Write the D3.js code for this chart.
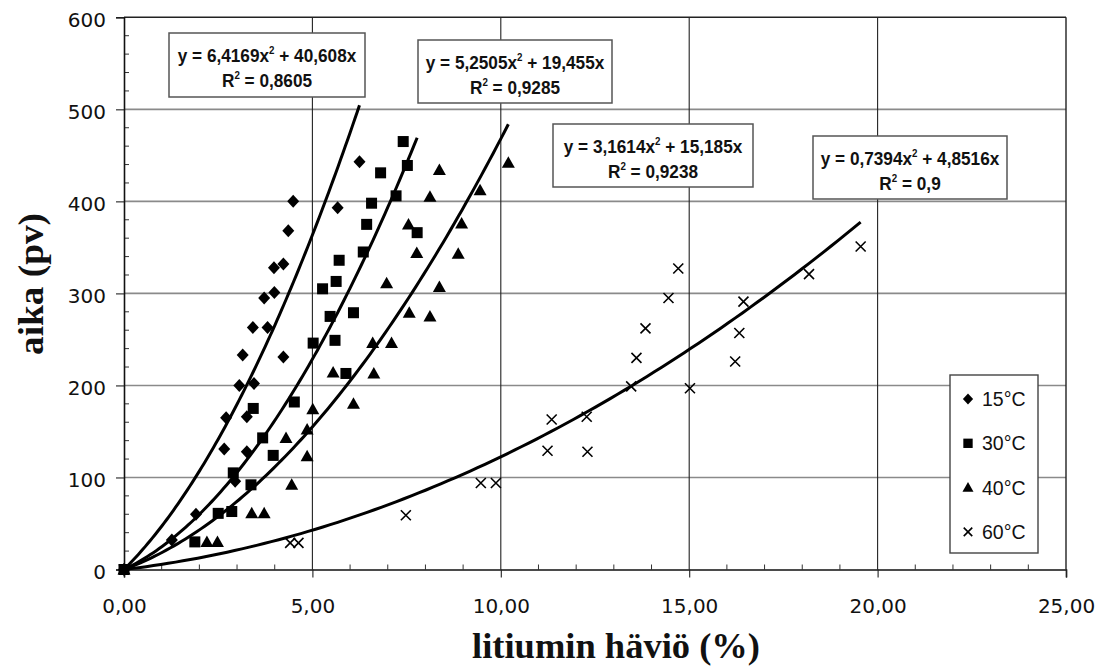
<!DOCTYPE html>
<html>
<head>
<meta charset="utf-8">
<script src="https://cdn.jsdelivr.net/npm/d3@7"></script>
<style>
  html, body { margin: 0; padding: 0; background: #fff; }
  svg { display: block; }
</style>
</head>
<body>
<svg id="chart" width="1106" height="666"></svg>
<script>
// Measured lithium loss (%) vs. time (days), one array per temperature
const series15 = [[0,0],[1.27,32],[1.91,60],[2.95,96],[2.66,131],[3.26,128],[2.71,165],[3.26,166],
  [3.06,200],[3.45,202],[3.15,233],[4.23,231],[3.42,263],[3.81,263],[3.72,295],[3.99,301],
  [3.98,328],[4.23,332],[4.36,368],[4.49,400],[5.67,393],[6.25,443]];
const series30 = [[0,0],[1.88,30],[2.5,61],[2.86,63],[3.37,92],[2.9,105],[3.96,124],[3.68,143],
  [3.43,175],[4.52,182],[5.89,213],[5.02,246],[5.6,249],[5.47,275],[6.09,279],[5.27,305],
  [5.63,313],[5.71,336],[6.35,345],[7.78,366],[6.44,375],[6.57,398],[7.22,406],[6.81,431],
  [7.52,439],[7.41,465]];
const series40 = [[0,0],[2.2,30],[2.48,30],[3.39,61],[3.72,61],[4.45,92],[4.86,123],[4.3,143],
  [4.86,152],[5.01,174],[6.09,180],[6.63,213],[5.55,214],[6.6,246],[7.1,246],[8.12,275],
  [7.57,279],[8.37,307],[6.97,311],[8.87,343],[7.77,344],[7.55,375],[8.96,376],[8.12,405],
  [9.45,412],[8.37,434],[10.2,442]];
const series60 = [[0,0],[4.41,29],[4.63,29],[7.48,59],[9.47,94],[9.87,94],[11.24,129],[12.3,128],
  [11.35,163],[12.28,166],[13.46,199],[15.02,197],[16.22,226],[13.6,230],[16.33,257],[13.84,262],
  [16.44,291],[14.45,295],[14.71,327],[18.18,321],[19.55,351]];

const seriesNames = ["15°C", "30°C", "40°C", "60°C"];
const seriesShapes = ["diamond", "square", "triangle", "cross"];

// Second-order polynomial trendlines through the origin: y = a·x² + b·x
const fitA = [6.4169, 5.2505, 3.1614, 0.7394];
const fitB = [40.608, 19.455, 15.185, 4.8516];
const fitR2 = ["0,8605", "0,9285", "0,9238", "0,9"];

const xTicks = [0, 5, 10, 15, 20, 25];
const yTicks = [0, 100, 200, 300, 400, 500, 600];

const allSeries = [series15, series30, series40, series60];

const svg = d3.select("#chart");
const plotL = 124, plotR = 1066, plotT = 17.3, plotB = 569.5;

const x = d3.scaleLinear().domain([0, 25]).range([plotL, plotR]);
const y = d3.scaleLinear().domain([0, 600]).range([plotB, plotT]);

const comma = (v, digits) => v.toFixed(digits).replace(".", ",");

// grid
const grid = svg.append("g");
grid.selectAll("line.h").data(yTicks.filter(d => d > 0 && d < 600)).join("line")
  .attr("x1", plotL).attr("x2", plotR)
  .attr("y1", d => y(d)).attr("y2", d => y(d))
  .attr("stroke", "#8a8a8a").attr("stroke-width", 1.6);
grid.selectAll("line.v").data(xTicks.filter(d => d > 0 && d < 25)).join("line")
  .attr("x1", d => x(d)).attr("x2", d => x(d))
  .attr("y1", plotT).attr("y2", plotB)
  .attr("stroke", "#222").attr("stroke-width", 1.1);

// frame: top and right edges
svg.append("line").attr("x1", plotL).attr("x2", plotR).attr("y1", plotT).attr("y2", plotT)
  .attr("stroke", "#222").attr("stroke-width", 1.4);
svg.append("line").attr("x1", plotR).attr("x2", plotR).attr("y1", plotT).attr("y2", plotB)
  .attr("stroke", "#222").attr("stroke-width", 1.4);

// minor ticks (inside)
const xMinor = d3.range(1, 25).filter(d => d % 5 !== 0);
svg.append("g").selectAll("line").data(xMinor).join("line")
  .attr("x1", d => x(d)).attr("x2", d => x(d))
  .attr("y1", plotB).attr("y2", plotB - 5)
  .attr("stroke", "#333").attr("stroke-width", 1);
const yMinor = d3.range(20, 600, 20).filter(d => d % 100 !== 0);
svg.append("g").selectAll("line").data(yMinor).join("line")
  .attr("x1", plotL).attr("x2", plotL + 5)
  .attr("y1", d => y(d)).attr("y2", d => y(d))
  .attr("stroke", "#333").attr("stroke-width", 1);

// axes
const xAxis = svg.append("g").attr("transform", `translate(0,${plotB})`)
  .call(d3.axisBottom(x).tickValues(xTicks).tickSize(8).tickPadding(21).tickFormat(d => comma(d, 2)));
const yAxis = svg.append("g").attr("transform", `translate(${plotL},0)`)
  .call(d3.axisLeft(y).tickValues(yTicks).tickSize(8).tickPadding(10).tickFormat(d3.format("d")));
[xAxis, yAxis].forEach(g => {
  g.select(".domain").attr("stroke", "#111").attr("stroke-width", 1.6);
  g.selectAll(".tick line").attr("stroke", "#222").attr("stroke-width", 1.1);
  g.selectAll("text").attr("fill", "#111")
    .style("font-family", "'DejaVu Sans', sans-serif").style("font-size", "20px");
});
yAxis.selectAll("text").attr("dy", "0.45em");

// trendlines
const line = d3.line().x(d => x(d[0])).y(d => y(d[1]));
allSeries.forEach((s, i) => {
  const xmax = d3.max(s, d => d[0]);
  const pts = d3.range(0, 101).map(k => {
    const xv = xmax * k / 100;
    return [xv, fitA[i] * xv * xv + fitB[i] * xv];
  });
  svg.append("path").datum(pts).attr("d", line)
    .attr("fill", "none").attr("stroke", "#000").attr("stroke-width", 3);
});

// marker shapes
function marker(g, shape, k = 1) {
  if (shape === "diamond") {
    g.append("path").attr("d", `M0,${-6.5*k}L${6*k},0L0,${6.5*k}L${-6*k},0Z`).attr("fill", "#000");
  } else if (shape === "square") {
    g.append("rect").attr("x", -5.5*k).attr("y", -5.5*k).attr("width", 11*k).attr("height", 11*k).attr("fill", "#000");
  } else if (shape === "triangle") {
    g.append("path").attr("d", `M0,${-6.5*k}L${6.5*k},${5*k}L${-6.5*k},${5*k}Z`).attr("fill", "#000");
  } else {
    g.append("path").attr("d", `M${-5*k},${-5*k}L${5*k},${5*k}M${-5*k},${5*k}L${5*k},${-5*k}`)
      .attr("stroke", "#000").attr("stroke-width", 1.6).attr("fill", "none");
  }
}

allSeries.forEach((s, i) => {
  svg.append("g").selectAll("g").data(s).join("g")
    .attr("transform", d => `translate(${x(d[0])},${y(d[1])})`)
    .each(function() { marker(d3.select(this), seriesShapes[i]); });
});

// equation boxes
const eqBoxes = [
  { x: 169, y: 33, w: 196, h: 64 },
  { x: 418, y: 40, w: 194, h: 63 },
  { x: 553, y: 124, w: 200, h: 63 },
  { x: 813, y: 136, w: 194, h: 63 }
];
const eqFont = "'Liberation Sans', Arial, sans-serif";
eqBoxes.forEach((b, i) => {
  const g = svg.append("g");
  g.append("rect").attr("x", b.x).attr("y", b.y).attr("width", b.w).attr("height", b.h)
    .attr("fill", "#fff").attr("stroke", "#555").attr("stroke-width", 1.5);
  const cx = b.x + b.w / 2;
  const t1 = g.append("text").attr("text-anchor", "middle")
    .attr("transform", `translate(${cx},${b.y + 29}) scale(0.93,1)`)
    .style("font-family", eqFont)
    .style("font-weight", "bold").style("font-size", "18.5px").attr("fill", "#111");
  t1.append("tspan").text(`y = ${String(fitA[i]).replace(".", ",")}x`);
  t1.append("tspan").attr("dy", -8).style("font-size", "10.5px").text("2");
  t1.append("tspan").attr("dy", 8).text(` + ${String(fitB[i]).replace(".", ",")}x`);
  const t2 = g.append("text").attr("text-anchor", "middle")
    .attr("transform", `translate(${cx},${b.y + 54}) scale(0.93,1)`)
    .style("font-family", eqFont)
    .style("font-weight", "bold").style("font-size", "18.5px").attr("fill", "#111");
  t2.append("tspan").text("R");
  t2.append("tspan").attr("dy", -8).style("font-size", "10.5px").text("2");
  t2.append("tspan").attr("dy", 8).text(` = ${fitR2[i]}`);
});

// legend
const lg = svg.append("g");
lg.append("rect").attr("x", 950).attr("y", 375).attr("width", 88).attr("height", 178)
  .attr("fill", "#fff").attr("stroke", "#444").attr("stroke-width", 1.4);
seriesNames.forEach((name, i) => {
  const cy = 399 + i * 44.3;
  const g = lg.append("g").attr("transform", `translate(968,${cy})`);
  marker(g, seriesShapes[i], 0.85);
  lg.append("text").attr("x", 982).attr("y", cy + 7).text(name)
    .style("font-family", "'Liberation Sans', Arial, sans-serif").style("font-size", "19.5px").attr("fill", "#111");
});

// axis titles
svg.append("text").attr("x", 616).attr("y", 658).attr("text-anchor", "middle")
  .attr("textLength", 288).attr("lengthAdjust", "spacingAndGlyphs")
  .style("font-family", "'Liberation Serif', 'Times New Roman', serif")
  .style("font-weight", "bold").style("font-size", "36px").attr("fill", "#111")
  .text("litiumin häviö (%)");
svg.append("text").attr("transform", "translate(43,284) rotate(-90)").attr("text-anchor", "middle")
  .attr("textLength", 142).attr("lengthAdjust", "spacingAndGlyphs")
  .style("font-family", "'Liberation Serif', 'Times New Roman', serif")
  .style("font-weight", "bold").style("font-size", "36px").attr("fill", "#111")
  .text("aika (pv)");
</script>
</body>
</html>
